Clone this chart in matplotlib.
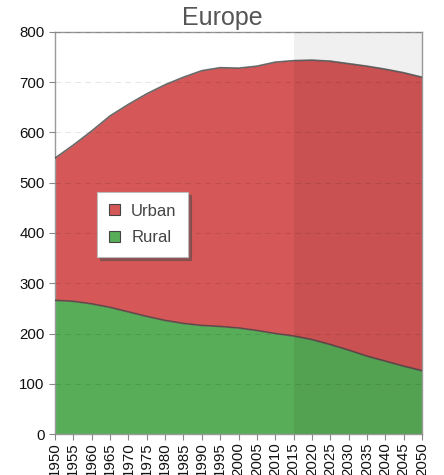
import matplotlib
matplotlib.use("Agg")
import matplotlib.pyplot as plt
import numpy as np

years = list(range(1950, 2051, 5))
rural = [266, 264, 259, 252, 243, 234, 226, 220, 216, 214, 211, 206, 200, 195, 188, 178, 167, 155, 145, 135, 126]
urban = [283, 311, 344, 381, 413, 443, 469, 490, 507, 515, 517, 526, 540, 548, 556, 564, 570, 577, 581, 584, 584]
title = "Europe"
projection_start = 2015

plt.rcParams['font.family'] = ['Liberation Sans', 'DejaVu Sans']

fig = plt.figure(figsize=(4.44, 4.75), dpi=100)
ax = fig.add_axes([55/444, 41/475, 367/444, 402/475])

r = np.array(rural)
u = np.array(urban)
ax.fill_between(years, 0, r, color='#58ad58', lw=0, zorder=2)
ax.fill_between(years, r, r + u, color='#d65757', lw=0, zorder=2)
ax.plot(years, r, color='#444444', lw=1.2, alpha=0.8, zorder=3)
ax.plot(years, r + u, color='#444444', lw=1.2, alpha=0.8, zorder=3)

ax.axvspan(projection_start, years[-1], color='black', alpha=0.06, lw=0, zorder=4)

ax.set_xlim(years[0], years[-1])
ax.set_ylim(0, 800)
ax.set_yticks(range(0, 801, 100))
ax.set_xticks(years)
ax.set_xticklabels([str(y) for y in years], rotation=90, fontsize=10.8, color='#111111')
ax.tick_params(axis='y', labelsize=10.8, labelcolor='#111111', length=4, color='#888888')
ax.tick_params(axis='x', length=4, color='#888888', pad=2)
ax.grid(axis='y', color='black', linestyle=(0, (5, 4)), lw=0.8, zorder=5, alpha=0.1)
ax.set_axisbelow(False)
for s in ax.spines.values():
    s.set_color('#999999')
    s.set_linewidth(1)

fig.text(0.5, 0.963, title, ha='center', va='center', fontsize=18, color='#555555')

leg = ax.legend(handles=[
    plt.Rectangle((0, 0), 1, 1, fc='#d65757', ec='#444444', lw=0.8),
    plt.Rectangle((0, 0), 1, 1, fc='#58ad58', ec='#444444', lw=0.8)],
    labels=['Urban', 'Rural'], loc='upper left', bbox_to_anchor=(42/367, 242/402),
    fontsize=12, frameon=True, fancybox=False, shadow=True, handlelength=0.65, handleheight=0.65,
    labelspacing=0.7, borderpad=0.7, handletextpad=0.7, borderaxespad=0)
leg.get_frame().set_edgecolor('#bbbbbb')
leg.get_frame().set_linewidth(0.8)
for t in leg.get_texts():
    t.set_color('#444444')
leg.set_zorder(10)

fig.savefig('out.png', dpi=100)
